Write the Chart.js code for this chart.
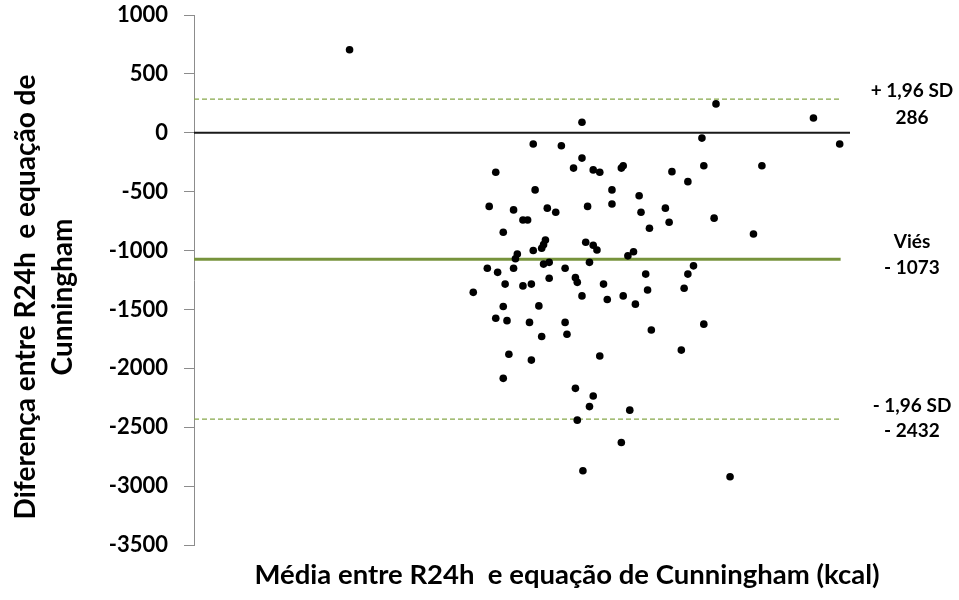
<!DOCTYPE html>
<html>
<head>
<meta charset="utf-8">
<script src="https://cdn.jsdelivr.net/npm/chart.js@4/dist/chart.umd.min.js"></script>
<style>
  html, body { margin: 0; padding: 0; background: #ffffff; }
  #wrap { width: 959px; height: 600px; }
</style>
</head>
<body>
<div id="wrap"><canvas id="c" width="959" height="600"></canvas></div>
<script>
// Média (kcal) de cada participante
const meanKcal = [
  830, 2070, 1810, 1960, 2070, 1610, 2025, 2130, 2165, 2280,
  2290, 1820, 2230, 2375, 1575, 1705, 1885, 1930, 2100, 2230,
  2385, 1755, 1780, 1650, 1875, 1865, 1855, 1810, 2090, 2130,
  2150, 1725, 1715, 1705, 2345, 2315, 1565, 1620, 1865, 1895,
  1980, 2110, 2035, 2045, 1895, 1660, 1755, 1800, 2185, 1490,
  2070, 2205, 2290, 2355, 1650, 1840, 1610, 1670, 1790, 1980,
  1855, 1990, 1680, 1800, 2165, 1650, 2035, 2130, 2110, 2325,
  2045, 2280, 2075, 2785, 3305, 2710, 3445, 2550, 2635, 2720,
  3030, 2515, 2535, 2430, 2775, 2985, 2665, 2635, 2410, 2420,
  2615, 2440, 2720, 2600, 2860
];
// Diferença R24h - equação de Cunningham (kcal)
const diffKcal = [
  705, 90, -95, -110, -215, -335, -300, -315, -335, -300,
  -280, -485, -485, -535, -625, -655, -640, -675, -625, -605,
  -675, -740, -740, -845, -910, -950, -980, -1000, -930, -955,
  -995, -1030, -1070, -1150, -1010, -1045, -1150, -1185, -1115, -1100,
  -1150, -1100, -1230, -1270, -1235, -1285, -1300, -1285, -1285, -1355,
  -1385, -1415, -1385, -1455, -1475, -1470, -1575, -1595, -1610, -1610,
  -1730, -1710, -1880, -1930, -1895, -2085, -2170, -2235, -2325, -2355,
  -2440, -2630, -2870, 245, 125, -45, -95, -330, -415, -280,
  -280, -640, -760, -810, -725, -860, -1130, -1200, -1200, -1335,
  -1320, -1675, -1625, -1845, -2920
];

// Limites de concordância e viés
const upperLimit = 286;
const bias = -1073;
const lowerLimit = -2432;
const limitTexts = [
  ['+ 1,96 SD', '286'],
  ['Viés', '- 1073'],
  ['- 1,96 SD', '- 2432']
];

const yTickValues = [1000, 500, 0, -500, -1000, -1500, -2000, -2500, -3000, -3500];
const xRange = [0, 3500];
const refLineEnd = 3450;

const yTitleLines = ['Diferença entre R24h  e equação de', 'Cunningham'];
const xTitle = 'Média entre R24h  e equação de Cunningham (kcal)';

const points = meanKcal.map((x, i) => ({ x: x, y: diffKcal[i] }));
const hLine = (v, xEnd) => [{ x: xRange[0], y: v }, { x: xEnd, y: v }];

const FONT = 'Lato, "Open Sans", sans-serif';

const textPlugin = {
  id: 'textLabels',
  afterDraw(chart) {
    const ctx = chart.ctx;
    const y = chart.scales.y;
    ctx.save();
    ctx.fillStyle = '#000000';
    ctx.textAlign = 'center';
    ctx.textBaseline = 'middle';

    // right-hand annotations for the limits
    ctx.font = 'bold 19px ' + FONT;
    const vals = [upperLimit, bias, lowerLimit];
    const offsets = [[-8, 19], [-17, 9], [-13, 12]];
    vals.forEach((v, i) => {
      const py = y.getPixelForValue(v);
      ctx.fillText(limitTexts[i][0], 912, py + offsets[i][0]);
      ctx.fillText(limitTexts[i][1], 912, py + offsets[i][1]);
    });

    // x title
    ctx.font = 'bold 27.5px ' + FONT;
    ctx.textBaseline = 'alphabetic';
    ctx.fillText(xTitle, 567, 584);

    // y title (rotated)
    ctx.font = 'bold 28px ' + FONT;
    ctx.translate(0, 297);
    ctx.rotate(-Math.PI / 2);
    ctx.textBaseline = 'middle';
    ctx.fillText(yTitleLines[0], 0, 26);
    ctx.fillText(yTitleLines[1], 0, 63);
    ctx.restore();
  }
};

new Chart(document.getElementById('c'), {
  type: 'scatter',
  data: {
    datasets: [
      {
        data: points,
        backgroundColor: '#000000',
        borderWidth: 0,
        pointRadius: 3.8,
        pointHoverRadius: 3.8
      },
      {
        data: hLine(0, xRange[1]),
        showLine: true,
        borderColor: '#1a1a1a',
        borderWidth: 2,
        pointRadius: 0
      },
      {
        data: hLine(bias, refLineEnd),
        showLine: true,
        borderColor: '#77933c',
        borderWidth: 3,
        pointRadius: 0
      },
      {
        data: hLine(upperLimit, refLineEnd),
        showLine: true,
        borderColor: '#86a84a',
        borderWidth: 1.3,
        borderDash: [5, 3],
        pointRadius: 0
      },
      {
        data: hLine(lowerLimit, refLineEnd),
        showLine: true,
        borderColor: '#86a84a',
        borderWidth: 1.3,
        borderDash: [5, 3],
        pointRadius: 0
      }
    ]
  },
  options: {
    responsive: false,
    animation: false,
    devicePixelRatio: 1,
    layout: { padding: { left: 0, right: 109, top: 15, bottom: 55 } },
    plugins: {
      legend: { display: false },
      tooltip: { enabled: false }
    },
    scales: {
      x: {
        type: 'linear',
        display: false,
        min: xRange[0],
        max: xRange[1]
      },
      y: {
        type: 'linear',
        min: yTickValues[yTickValues.length - 1],
        max: yTickValues[0],
        afterBuildTicks(scale) {
          scale.ticks = yTickValues.map(v => ({ value: v }));
        },
        afterFit(scale) {
          scale.width = 194;
          scale.paddingTop = 0;
          scale.paddingBottom = 0;
        },
        border: { display: true, color: '#8c8c8c', width: 1 },
        grid: {
          drawOnChartArea: false,
          drawTicks: true,
          tickLength: 10,
          tickColor: '#8c8c8c',
          color: '#8c8c8c'
        },
        ticks: {
          color: '#000000',
          padding: 16,
          font: { family: FONT, size: 22, weight: 'bold' },
          callback: (v) => String(v)
        }
      }
    }
  },
  plugins: [textPlugin]
});
</script>
</body>
</html>
